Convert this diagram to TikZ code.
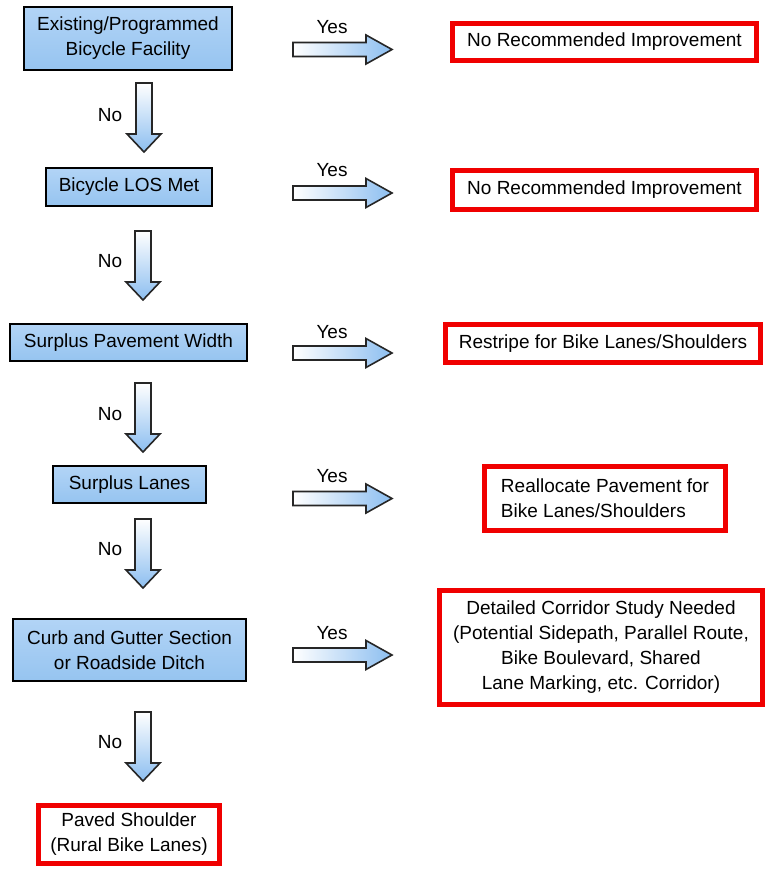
\documentclass[tikz,border=0pt]{standalone}
\usepackage{fontspec}
\setmainfont{Liberation Sans}
\definecolor{boxtop}{RGB}{178,212,246}
\definecolor{boxbot}{RGB}{150,196,240}
\definecolor{arrblue}{RGB}{140,190,240}
\definecolor{redline}{RGB}{240,0,0}
\newcommand\myDownArrow[2]{%
  \shade[top color=white,bottom color=arrblue,draw=black!85,line width=1.6pt,line join=miter]
    (#1-8,#2) -- (#1+8,#2) -- (#1+8,#2+51) -- (#1+17,#2+51) -- (#1,#2+69)
    -- (#1-17,#2+51) -- (#1-8,#2+51) -- cycle;}
\newcommand\myRightArrow[1]{%
  \shade[left color=white,right color=arrblue,draw=black!85,line width=1.6pt,line join=miter]
    (293,#1-7) -- (366,#1-7) -- (366,#1-14.5) -- (392,#1) -- (366,#1+14.5)
    -- (366,#1+7) -- (293,#1+7) -- cycle;}
\begin{document}
\begin{tikzpicture}[x=1pt,y=-1pt,
  every node/.style={font=\fontsize{19}{25}\selectfont},
  bluebox/.style={draw=black,line width=2.4pt,top color=boxtop,bottom color=boxbot,
    align=center,inner sep=0pt},
  redbox/.style={draw=redline,line width=5pt,fill=white,align=center,inner sep=0pt},
  lbl/.style={inner sep=0pt}]
\useasboundingbox (0,0) rectangle (766,869);
% decision boxes
\node[bluebox,minimum width=207.6pt,minimum height=62.6pt] (b1) at (128,38.5) {Existing/Programmed\\Bicycle Facility};
\node[bluebox,minimum width=165.6pt,minimum height=37.6pt] (b2) at (129,187) {Bicycle LOS Met};
\node[bluebox,minimum width=236.6pt,minimum height=36.6pt] (b3) at (128.5,342.5) {Surplus Pavement Width};
\node[bluebox,minimum width=152.6pt,minimum height=36.6pt] (b4) at (129.5,484.5) {Surplus Lanes};
\node[bluebox,minimum width=232.6pt,minimum height=61.6pt] (b5) at (129.5,650) {Curb and Gutter Section\\or Roadside Ditch};
% outcome boxes
\node[redbox,minimum width=181pt,minimum height=58pt] (r6) at (129,834.5) {Paved Shoulder\\(Rural Bike Lanes)};
\node[redbox,minimum width=304pt,minimum height=37pt] (r1) at (604.5,42) {No Recommended Improvement};
\node[redbox,minimum width=304pt,minimum height=39pt] (r2) at (604.5,190) {No Recommended Improvement};
\node[redbox,minimum width=315pt,minimum height=38pt] (r3) at (603,343.5) {Restripe for Bike Lanes/Shoulders};
\node[redbox,minimum width=241pt,minimum height=64pt,align=left] (r4) at (605,498.5) {Reallocate Pavement for\\Bike Lanes/Shoulders};
\node[redbox,minimum width=323pt,minimum height=114pt] (r5) at (601,647.5) {Detailed Corridor Study Needed\\(Potential Sidepath, Parallel Route,\\Bike Boulevard, Shared\\Lane Marking, etc. Corridor)};
% block arrows
\myDownArrow{144}{83}
\myDownArrow{143}{231}
\myDownArrow{143}{383}
\myDownArrow{143}{519}
\myDownArrow{143}{712}
\myRightArrow{49.5}
\myRightArrow{193}
\myRightArrow{353}
\myRightArrow{498.5}
\myRightArrow{655}
% labels
\node[lbl] (y1) at (332,27) {Yes};
\node[lbl] (y2) at (332,170) {Yes};
\node[lbl] (y3) at (332,332) {Yes};
\node[lbl] (y4) at (332,476) {Yes};
\node[lbl] (y5) at (332,633) {Yes};
\node[lbl] (n1) at (110,115) {No};
\node[lbl] (n2) at (110,261) {No};
\node[lbl] (n3) at (110,414) {No};
\node[lbl] (n4) at (110,549) {No};
\node[lbl] (n5) at (110,742) {No};
\end{tikzpicture}
\end{document}
